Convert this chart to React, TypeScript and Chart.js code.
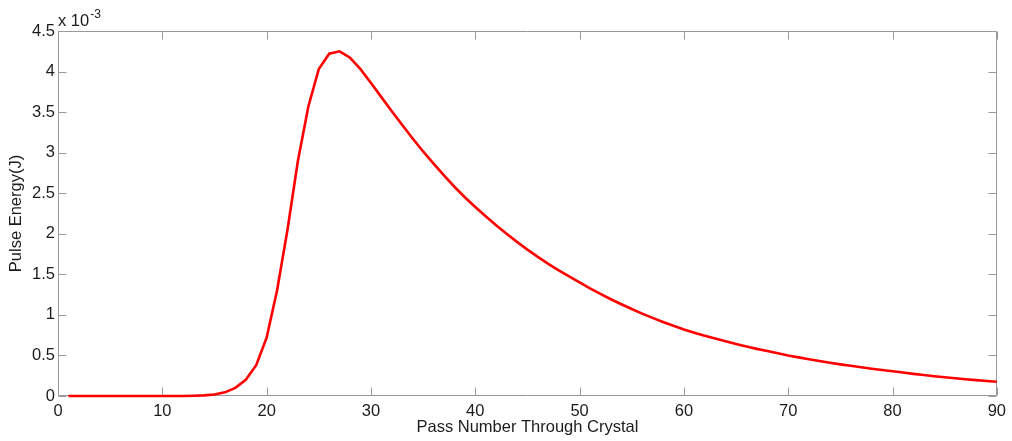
import React, { useEffect, useRef } from 'react';
import { Chart, registerables } from 'chart.js';

Chart.register(...registerables);

// Pass numbers through the crystal
const passNumbers = [
  1, 2, 3, 4, 5, 6, 7, 8, 9, 10,
  11, 12, 13, 14, 15, 16, 17, 18, 19, 20,
  21, 22, 23, 24, 25, 26, 27, 28, 29, 30,
  31, 32, 33, 34, 35, 36, 37, 38, 39, 40,
  41, 42, 43, 44, 45, 46, 47, 48, 49, 50,
  51, 52, 53, 54, 55, 56, 57, 58, 59, 60,
  61, 62, 63, 64, 65, 66, 67, 68, 69, 70,
  71, 72, 73, 74, 75, 76, 77, 78, 79, 80,
  81, 82, 83, 84, 85, 86, 87, 88, 89, 90,
];

// Pulse energy in units of 1e-3 J (axis multiplier x 10^-3)
const pulseEnergyE3 = [
  0, 0, 0, 0, 0, 0, 0, 0, 0, 0,
  0, 0, 0.004, 0.008, 0.018, 0.045, 0.1, 0.2, 0.38, 0.72,
  1.3, 2.05, 2.9, 3.57, 4.03, 4.22, 4.25, 4.17, 4.03, 3.86,
  3.685, 3.51, 3.34, 3.175, 3.015, 2.865, 2.72, 2.58, 2.45, 2.33,
  2.215, 2.105, 2.0, 1.9, 1.805, 1.715, 1.63, 1.55, 1.474, 1.4,
  1.327, 1.258, 1.193, 1.131, 1.072, 1.016, 0.963, 0.913, 0.866, 0.82,
  0.781, 0.743, 0.708, 0.674, 0.641, 0.611, 0.581, 0.554, 0.527, 0.5,
  0.476, 0.453, 0.431, 0.41, 0.39, 0.372, 0.354, 0.337, 0.321, 0.305,
  0.289, 0.273, 0.258, 0.244, 0.231, 0.219, 0.207, 0.196, 0.185, 0.175,
];

const xTitle = 'Pass Number Through Crystal';
const yTitle = 'Pulse Energy(J)';
const yMultiplierBase = 'x 10';
const yMultiplierExp = '-3';

const xRange = { min: 0, max: 90, step: 10 };
const yRange = { min: 0, max: 4.5, step: 0.5 };

const FONT = '"Liberation Sans", Arial, Helvetica, sans-serif';
const FONT_SIZE = 16.5;
const TEXT_COLOR = '#1c1c1c';
const AXIS_COLOR = '#9a9a9a';
const LINE_COLOR = '#ff0000';
const TICK_LEN = 8;

const matlabAxesPlugin = {
  id: 'matlabAxes',
  beforeDatasetsDraw(chart: any) {
    const { ctx, chartArea: a, scales } = chart;
    const L = Math.round(a.left) + 0.5;
    const R = Math.round(a.right) - 0.5;
    const T = Math.round(a.top) + 0.5;
    const B = Math.round(a.bottom) - 0.5;
    ctx.save();
    ctx.strokeStyle = AXIS_COLOR;
    ctx.lineWidth = 1;
    ctx.beginPath();
    ctx.rect(L, T, R - L, B - T);
    ctx.stroke();
    ctx.beginPath();
    scales.x.ticks.forEach((t: any) => {
      const px = Math.round(scales.x.getPixelForValue(t.value)) + 0.5;
      ctx.moveTo(px, B);
      ctx.lineTo(px, B - TICK_LEN);
      ctx.moveTo(px, T);
      ctx.lineTo(px, T + TICK_LEN);
    });
    scales.y.ticks.forEach((t: any) => {
      const py = Math.round(scales.y.getPixelForValue(t.value)) + 0.5;
      ctx.moveTo(L, py);
      ctx.lineTo(L + TICK_LEN, py);
      ctx.moveTo(R, py);
      ctx.lineTo(R - TICK_LEN, py);
    });
    ctx.stroke();
    ctx.restore();
  },
  afterDraw(chart: any) {
    const { ctx, chartArea: a } = chart;
    ctx.save();
    ctx.fillStyle = TEXT_COLOR;
    ctx.textBaseline = 'alphabetic';
    ctx.textAlign = 'left';
    ctx.font = `${FONT_SIZE}px ${FONT}`;
    const x0 = a.left;
    ctx.fillText(yMultiplierBase, x0, a.top - 5);
    const w = ctx.measureText(yMultiplierBase).width;
    ctx.font = `12px ${FONT}`;
    ctx.fillText(yMultiplierExp, x0 + w + 1, a.top - 13);
    ctx.restore();
  },
};

export default function App() {
  const canvasRef = useRef<HTMLCanvasElement | null>(null);

  useEffect(() => {
    if (!canvasRef.current) return;
    const points = passNumbers.map((p, i) => ({ x: p, y: pulseEnergyE3[i] }));
    const chart = new Chart(canvasRef.current, {
      type: 'line',
      data: {
        datasets: [
          {
            data: points,
            borderColor: LINE_COLOR,
            backgroundColor: LINE_COLOR,
            borderWidth: 2.6,
            pointRadius: 0,
            tension: 0,
            fill: false,
            clip: false as any,
          },
        ],
      },
      options: {
        responsive: false,
        animation: false,
        events: [],
        layout: { padding: { top: 31, right: 13, left: 0, bottom: 0 } },
        plugins: {
          legend: { display: false },
          tooltip: { enabled: false },
          title: { display: false },
        },
        scales: {
          x: {
            type: 'linear',
            min: xRange.min,
            max: xRange.max,
            grid: { display: false, drawTicks: false },
            border: { display: false },
            ticks: {
              stepSize: xRange.step,
              padding: 6,
              color: TEXT_COLOR,
              font: { family: FONT, size: FONT_SIZE },
              maxRotation: 0,
              callback: (v: any) => String(v),
            },
            title: {
              display: true,
              text: xTitle,
              color: TEXT_COLOR,
              font: { family: FONT, size: FONT_SIZE },
              padding: { top: 0, bottom: 4 },
            },
            afterFit: (scale: any) => {
              scale.height = 45;
            },
          },
          y: {
            type: 'linear',
            min: yRange.min,
            max: yRange.max,
            grid: { display: false, drawTicks: false },
            border: { display: false },
            ticks: {
              stepSize: yRange.step,
              padding: 3,
              color: TEXT_COLOR,
              font: { family: FONT, size: FONT_SIZE },
              callback: (v: any) => String(Math.round(Number(v) * 10) / 10),
            },
            title: {
              display: true,
              text: yTitle,
              color: TEXT_COLOR,
              font: { family: FONT, size: FONT_SIZE },
              padding: { top: 7, bottom: 0 },
            },
            afterFit: (scale: any) => {
              scale.width = 58;
            },
          },
        },
      },
      plugins: [matlabAxesPlugin],
    });
    return () => chart.destroy();
  }, []);

  return (
    <div style={{ position: 'absolute', left: 0, top: 0, width: 1012, height: 441, background: '#fff' }}>
      <canvas ref={canvasRef} width={1012} height={441} style={{ display: 'block' }} />
    </div>
  );
}
